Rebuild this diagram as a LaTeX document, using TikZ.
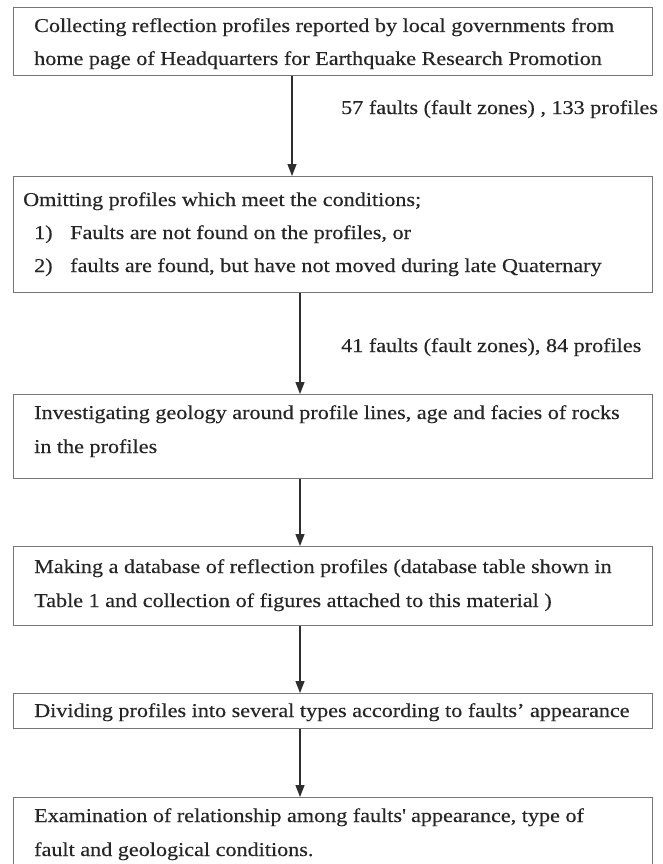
\documentclass[tikz,border=0pt]{standalone}
\usepackage{fontspec}
\setmainfont{Liberation Serif}[FakeStretch=1.13,FakeBold=0.3]
\usetikzlibrary{arrows.meta}
\definecolor{boxgray}{HTML}{777777}
\definecolor{arrcol}{HTML}{2E2E2E}
\definecolor{txtcol}{HTML}{262626}
\begin{document}
\begin{tikzpicture}[x=1pt,y=1pt,
  box/.style={draw=boxgray, line width=1.2pt, anchor=north west, inner sep=0pt, minimum width=639pt},
  txt/.style={anchor=base west, inner sep=0pt, text=txtcol, font=\fontsize{19.6}{24}\selectfont},
  arr/.style={draw=arrcol, line width=1.3pt, -{Triangle[length=12pt,width=9pt]}}]
\useasboundingbox[fill=white] (0,0) rectangle (662,-864);
% boxes
\node[box, minimum height=68pt]  (b1) at (13,-7)   {};
\node[box, minimum height=116pt] (b2) at (13,-176) {};
\node[box, minimum height=84pt]  (b3) at (13,-394) {};
\node[box, minimum height=79pt]  (b4) at (13,-546) {};
\node[box, minimum height=35pt]  (b5) at (13,-693) {};
\node[box, minimum height=80pt]  (b6) at (13,-797) {};
% arrow columns
\coordinate (c1) at (292,0);
\coordinate (c2) at (300,0);
% texts
\node[txt] (t1a) at (34,-32) {Collecting reflection profiles reported by local governments from};
\node[txt] (t1b) at (34,-65) {home page of Headquarters for Earthquake Research Promotion};
\node[txt] (l1)  at (341,-114) {57 faults (fault zones) , 133 profiles};
\node[txt] (t2a) at (23,-206) {Omitting profiles which meet the conditions;};
\node[txt] (t2b) at (34,-239) {1)};
\node[txt] (t2c) at (70,-239) {Faults are not found on the profiles, or};
\node[txt] (t2d) at (34,-272) {2)};
\node[txt] (t2e) at (70,-272) {faults are found, but have not moved during late Quaternary};
\node[txt] (l2)  at (341,-352) {41 faults (fault zones), 84 profiles};
\node[txt] (t3a) at (34,-419) {Investigating geology around profile lines, age and facies of rocks};
\node[txt] (t3b) at (34,-453) {in the profiles};
\node[txt] (t4a) at (34,-573) {Making a database of reflection profiles (database table shown in};
\node[txt] (t4b) at (34,-607) {Table 1 and collection of figures attached to this material )};
\node[txt] (t5a) at (34,-717) {Dividing profiles into several types according to faults’ appearance};
\node[txt] (t6a) at (34,-822) {Examination of relationship among faults\textquotesingle{} appearance, type of};
\node[txt] (t6b) at (34,-856) {fault and geological conditions.};
% arrows
\draw[arr] (b1.south -| c1) -- (b2.north -| c1);
\draw[arr] (b2.south -| c2) -- (b3.north -| c2);
\draw[arr] (b3.south -| c2) -- (b4.north -| c2);
\draw[arr] (b4.south -| c2) -- (b5.north -| c2);
\draw[arr] (b5.south -| c2) -- (b6.north -| c2);
\end{tikzpicture}
\end{document}
